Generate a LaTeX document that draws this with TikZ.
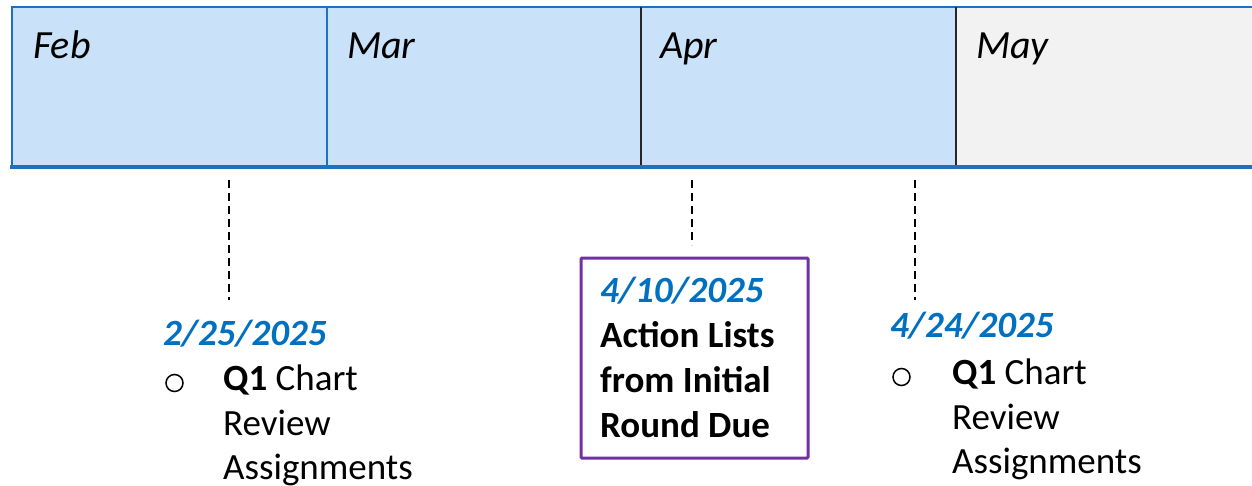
\documentclass[tikz,border=0pt]{standalone}
\usepackage{fontspec}
\setmainfont{Carlito}
\definecolor{barblue}{HTML}{1F6FC5}
\definecolor{lightblue}{HTML}{C9E2F9}
\definecolor{lightgray}{HTML}{F2F2F2}
\definecolor{datecol}{HTML}{0070C0}
\definecolor{boxpurple}{HTML}{7030A0}
\tikzset{
  month/.style={anchor=base west,inner sep=0pt,font=\fontsize{40}{48}\selectfont\itshape},
  datelbl/.style={anchor=base west,inner sep=0pt,text=datecol,font=\fontsize{37}{45}\selectfont\bfseries\itshape},
  bodytxt/.style={anchor=base west,inner sep=0pt,font=\fontsize{37}{45}\selectfont},
  boldtxt/.style={anchor=base west,inner sep=0pt,font=\fontsize{37}{45}\selectfont\bfseries},
  leader/.style={draw=black,line width=1.6pt,dash pattern=on 8pt off 5pt},
  bulletmark/.style={circle,draw=black,line width=1.5pt,minimum size=17pt,inner sep=0pt},
  duebox/.style={draw=boxpurple,line width=3pt,rounded corners=1pt,fill=white}
}
\begin{document}
\begin{tikzpicture}[x=1pt,y=-1pt]
\useasboundingbox (0,0) rectangle (1252,485);
% month bar fills
\fill[lightblue] (12,7) rectangle (956,167);
\fill[lightgray] (956,7) rectangle (1252,167);
% outline
\draw[barblue,line width=2.5pt] (1252,7) -- (12,7) -- (12,167);
\draw[barblue,line width=2.5pt] (327,7) -- (327,167);
\draw[black!85,line width=2.5pt] (641,7) -- (641,167);
\draw[black!85,line width=2.5pt] (956,7) -- (956,167);
\draw[barblue,line width=4.5pt] (10,167) -- (1252,167);
% month labels
\node[month] (feb) at (33,58) {Feb};
\node[month] (mar) at (347,58) {Mar};
\node[month] (apr) at (660,58) {Apr};
\node[month] (may) at (976,58) {May};
% leaders
\coordinate (t1) at (229,180);
\coordinate (b1) at (229,300);
\coordinate (t2) at (692,180);
\coordinate (b2) at (692,245);
\coordinate (t3) at (915,180);
\coordinate (b3) at (915,300);
\draw[leader] (t1) -- (b1);
\draw[leader] (t2) -- (b2);
\draw[leader] (t3) -- (b3);
% event 1
\node[datelbl] (d1) at (163,345) {2/25/2025};
\node[bulletmark] (o1) at (174.5,383) {};
\node[bodytxt] (e1a) at (223,390) {\textbf{Q1} Chart};
\node[bodytxt] (e1b) at (223,435) {Review};
\node[bodytxt] (e1c) at (223,479) {Assignments};
% event 2 box
\draw[duebox] (581,258) rectangle (808,458);
\node[datelbl] (d2) at (600,302) {4/10/2025};
\node[boldtxt] (e2a) at (600,347) {Action Lists};
\node[boldtxt] (e2b) at (600,392) {from Initial};
\node[boldtxt] (e2c) at (600,437) {Round Due};
% event 3
\node[datelbl] (d3) at (890,337) {4/24/2025};
\node[bulletmark] (o3) at (901.5,377) {};
\node[bodytxt] (e3a) at (952,384) {\textbf{Q1} Chart};
\node[bodytxt] (e3b) at (952,429) {Review};
\node[bodytxt] (e3c) at (952,473) {Assignments};
\end{tikzpicture}
\end{document}
